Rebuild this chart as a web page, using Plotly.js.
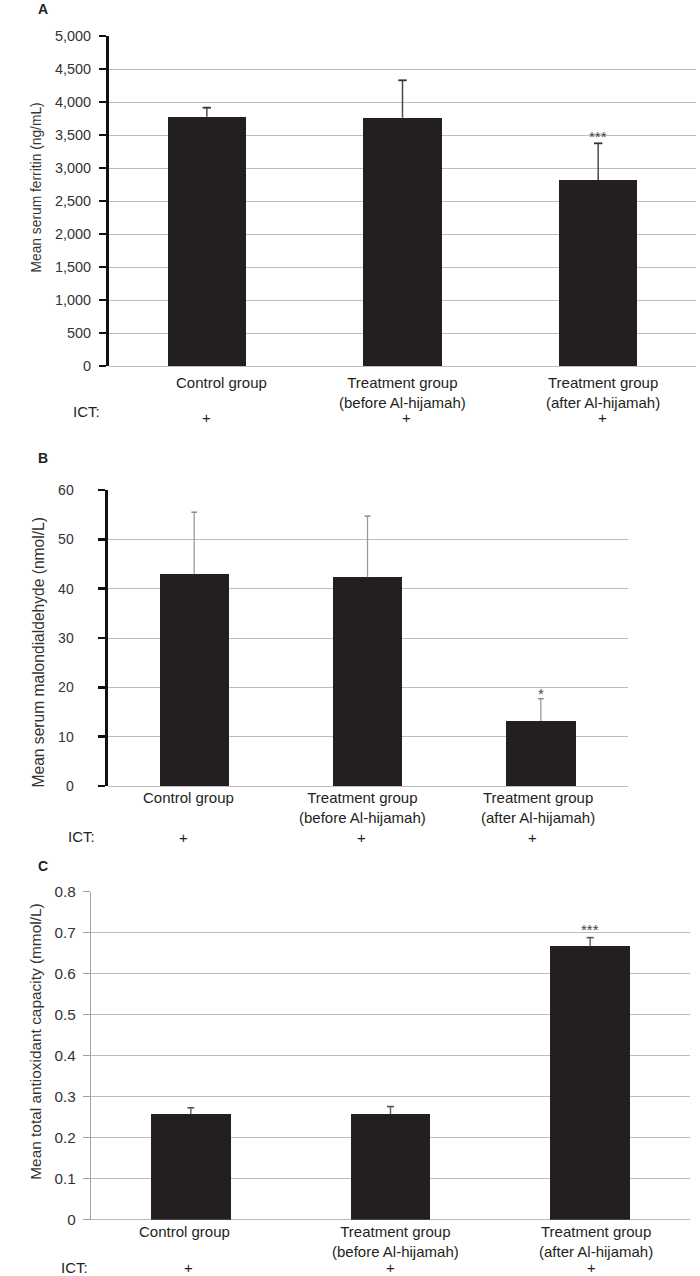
<!DOCTYPE html>
<html>
<head>
<meta charset="utf-8">
<script src="https://cdn.plot.ly/plotly-3.0.1.min.js"></script>
<style>html,body{margin:0;padding:0;background:#fff;}#chart{width:700px;height:1276px;}</style>
</head>
<body>
<div id="chart"></div>
<script>
// ---- data ----
const groups = ['Control group', 'Treatment group (before Al-hijamah)', 'Treatment group (after Al-hijamah)'];
const groupLabels = ['Control group', 'Treatment group<br>(before Al-hijamah)', 'Treatment group<br>(after Al-hijamah)'];
const ictRow = ['+', '+', '+'];

const ferritinMean = [3777, 3762, 2814];
const ferritinErr = [137, 567, 560];
const ferritinSig = ['', '', '***'];

const mdaMean = [42.9, 42.3, 13.2];
const mdaErr = [12.6, 12.4, 4.5];
const mdaSig = ['', '', '*'];

const taoMean = [0.257, 0.257, 0.667];
const taoErr = [0.016, 0.019, 0.021];
const taoSig = ['', '', '***'];

const ferritinTicks = [0, 500, 1000, 1500, 2000, 2500, 3000, 3500, 4000, 4500, 5000];
const mdaTicks = [0, 10, 20, 30, 40, 50, 60];
const taoTicks = [0, 0.1, 0.2, 0.3, 0.4, 0.5, 0.6, 0.7, 0.8];
const taoTickText = ['0', '0.1', '0.2', '0.3', '0.4', '0.5', '0.6', '0.7', '0.8'];

const panelLetters = ['A', 'B', 'C'];
const yTitles = ['Mean serum ferritin (ng/mL)', 'Mean serum malondialdehyde (nmol/L)', 'Mean total antioxidant capacity (mmol/L)'];

// ---- layout helpers ----
const H = 1276, W = 700;
const py = p => 1 - p / H;
const px = p => p / W;
const FONT = 'Liberation Sans, Arial, Helvetica, sans-serif';
const TXT = '#231f20';
const BAR = '#231f20';
const idx = [0, 1, 2];

function barTrace(vals, xa, ya) {
  return {
    type: 'bar', x: idx, y: vals, xaxis: xa, yaxis: ya, width: 0.4,
    marker: {color: BAR, line: {width: 0}},
    hoverinfo: 'skip', showlegend: false
  };
}
// upward-only error bars: stem from the bar top to mean+err, cap at mean+err
function stemTrace(vals, errs, xa, ya, color, thick) {
  const xs = [], ys = [];
  idx.forEach(i => { xs.push(i, i, null); ys.push(vals[i], vals[i] + errs[i], null); });
  return {type: 'scatter', mode: 'lines', x: xs, y: ys, xaxis: xa, yaxis: ya,
    line: {color: color, width: thick}, hoverinfo: 'skip', showlegend: false, cliponaxis: false};
}
function capTrace(vals, errs, xa, ya, color, thick, size) {
  return {type: 'scatter', mode: 'markers', x: idx, y: idx.map(i => vals[i] + errs[i]), xaxis: xa, yaxis: ya,
    marker: {symbol: 'line-ew', size: size, color: color, line: {color: color, width: thick}},
    hoverinfo: 'skip', showlegend: false, cliponaxis: false};
}

const data = [
  barTrace(ferritinMean, 'x', 'y'),
  barTrace(mdaMean, 'x2', 'y2'),
  barTrace(taoMean, 'x3', 'y3'),
  stemTrace(ferritinMean, ferritinErr, 'x', 'y', '#4a4a4a', 1.5),
  capTrace(ferritinMean, ferritinErr, 'x', 'y', '#333', 1.8, 6),
  stemTrace(mdaMean, mdaErr, 'x2', 'y2', '#9a9a9a', 1.3),
  capTrace(mdaMean, mdaErr, 'x2', 'y2', '#8a8a8a', 1.5, 4),
  stemTrace(taoMean, taoErr, 'x3', 'y3', '#666', 1.5),
  capTrace(taoMean, taoErr, 'x3', 'y3', '#555', 1.6, 5)
];

const xBase = {type: 'linear', range: [-0.5, 2.5], showticklabels: false, showgrid: false,
  zeroline: false, showline: false, ticks: '', fixedrange: true};

const gridCommon = {showgrid: true, gridcolor: '#bdbdbd', gridwidth: 1, zeroline: true, zerolinecolor: '#bdbdbd', zerolinewidth: 1};

const layout = {
  width: W, height: H, margin: {l: 0, r: 0, t: 0, b: 0},
  paper_bgcolor: '#fff', plot_bgcolor: '#fff', bargap: 0, showlegend: false,
  font: {family: FONT, color: TXT},
  xaxis: Object.assign({}, xBase, {domain: [px(109), px(696)], anchor: 'y'}),
  yaxis: Object.assign({domain: [py(366), py(36)], range: [0, 5000], anchor: 'x', tickvals: ferritinTicks,
    tickformat: ',d', showline: true, linecolor: '#111', linewidth: 3, ticks: 'outside', ticklen: 7, tickwidth: 2.5, tickcolor: '#111',
    tickfont: {family: FONT, size: 14.4, color: '#333'}, ticklabelstandoff: 5}, gridCommon),
  xaxis2: Object.assign({}, xBase, {domain: [px(107.5), px(627.5)], anchor: 'y2'}),
  yaxis2: Object.assign({domain: [py(786), py(490)], range: [0, 60], anchor: 'x2', tickvals: mdaTicks,
    showline: true, linecolor: '#111', linewidth: 3, ticks: 'outside', ticklen: 7, tickwidth: 2.5, tickcolor: '#111',
    tickfont: {family: FONT, size: 14, color: '#333'}, ticklabelstandoff: 21}, gridCommon),
  xaxis3: Object.assign({}, xBase, {domain: [px(91), px(690)], anchor: 'y3'}),
  yaxis3: Object.assign({domain: [py(1219.7), py(891.7)], range: [0, 0.8], anchor: 'x3', tickvals: taoTicks, ticktext: taoTickText,
    showline: true, linecolor: '#a0a0a0', linewidth: 1.2, ticks: 'outside', ticklen: 7, tickwidth: 1.2, tickcolor: '#a0a0a0',
    tickfont: {family: FONT, size: 15.3, color: '#333'}, ticklabelstandoff: 4}, gridCommon),
  annotations: []
};

const ann = layout.annotations;
const labFont = {family: FONT, size: 15, color: TXT};

// panel letters
ann.push({xref: 'paper', yref: 'paper', x: px(43), y: 1, xanchor: 'center', yanchor: 'top', borderpad: 0,
  text: '<b>' + panelLetters[0] + '</b>', showarrow: false, font: {family: FONT, size: 14, color: TXT}});
[458, 865.7].forEach((v, i) => {
  ann.push({xref: 'paper', yref: 'paper', x: px(43), y: py(v), xanchor: 'center', yanchor: 'middle', borderpad: 0,
    text: '<b>' + panelLetters[i + 1] + '</b>', showarrow: false, font: {family: FONT, size: 14, color: TXT}});
});

// y-axis titles (rotated)
[[36, 187.5, 13.8], [37.5, 653, 15.6], [36, 1041.7, 15.4]].forEach((v, i) => {
  ann.push({xref: 'paper', yref: 'paper', x: px(v[0]), y: py(v[1]), xanchor: 'center', yanchor: 'middle', borderpad: 0,
    textangle: -90, text: yTitles[i], showarrow: false, font: {family: FONT, size: v[2], color: '#333'}});
});

// category labels, ICT row and significance stars
const panels = [
  {xa: 'x', ya: 'y', labTop: 373, plusY: 417, ictY: 411, ictX: 71.5, labShift: [15, 0, 5], plusShift: [0, 4, 4],
   means: ferritinMean, errs: ferritinErr, sig: ferritinSig, sigShift: -3},
  {xa: 'x2', ya: 'y2', labTop: 787.5, plusY: 837.3, ictY: 837, ictX: 67, labShift: [-6, -5, -3], plusShift: [-11, -6, -8],
   means: mdaMean, errs: mdaErr, sig: mdaSig, sigShift: -4},
  {xa: 'x3', ya: 'y3', labTop: 1222.3, plusY: 1267.8, ictY: 1267.8, ictX: 60, labShift: [-6, 5, 6], plusShift: [-2, 0, 1],
   means: taoMean, errs: taoErr, sig: taoSig, sigShift: -1}
];

panels.forEach(p => {
  idx.forEach(i => {
    ann.push({xref: p.xa, yref: 'paper', x: i, y: py(p.labTop), xanchor: 'center', yanchor: 'top', xshift: p.labShift[i],
      borderpad: 0, text: groupLabels[i], showarrow: false, font: labFont, align: 'center'});
    ann.push({xref: p.xa, yref: 'paper', x: i, y: py(p.plusY), xanchor: 'center', yanchor: 'middle', xshift: p.plusShift[i],
      borderpad: 0, text: ictRow[i], showarrow: false, font: labFont});
    if (p.sig[i]) {
      ann.push({xref: p.xa, yref: p.ya, x: i, y: p.means[i] + p.errs[i], xanchor: 'center', yanchor: 'bottom', yshift: p.sigShift,
        borderpad: 0, text: p.sig[i], showarrow: false, font: {family: FONT, size: 15, color: '#444'}});
    }
  });
  ann.push({xref: 'paper', yref: 'paper', x: px(p.ictX), y: py(p.ictY), xanchor: 'left', yanchor: 'middle', borderpad: 0,
    text: 'ICT:', showarrow: false, font: labFont});
});

Plotly.newPlot('chart', data, layout, {staticPlot: true, displayModeBar: false});
</script>
</body>
</html>
